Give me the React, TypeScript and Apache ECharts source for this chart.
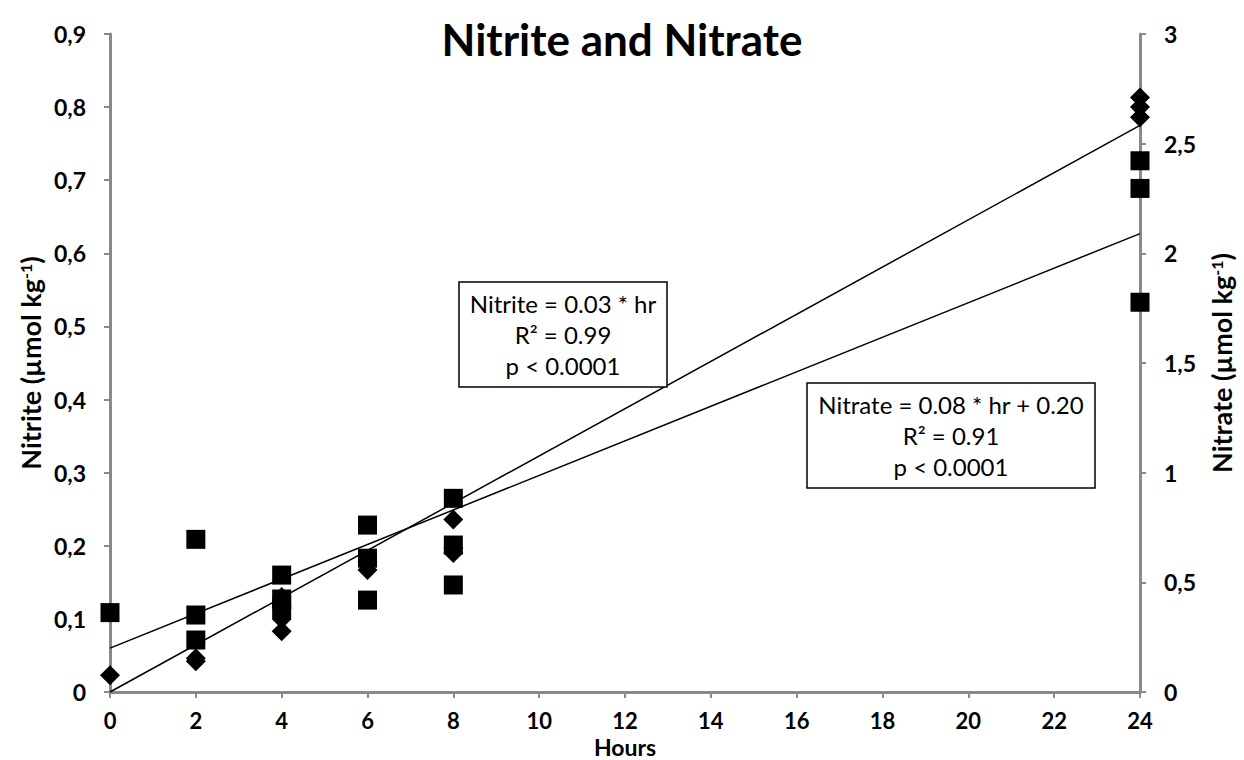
import React, { useEffect, useRef } from "react";
import * as echarts from "echarts";

const xTicks = [0, 24, 2];
const nitriteHours = [0, 2, 2, 4, 4, 4, 4, 6, 6, 8, 8, 8, 24, 24, 24];
const nitriteValues = [0.023, 0.046, 0.042, 0.13, 0.115, 0.1, 0.083, 0.178, 0.167, 0.236, 0.197, 0.19, 0.813, 0.8, 0.786];
const nitrateHours = [0, 2, 2, 2, 4, 4, 4, 6, 6, 6, 8, 8, 8, 24, 24, 24];
const nitrateValues = [0.362, 0.696, 0.351, 0.237, 0.533, 0.424, 0.38, 0.761, 0.61, 0.419, 0.883, 0.67, 0.488, 2.422, 2.296, 1.777];
const nitriteFitX = [0, 24];
const nitriteFitY = [0, 0.775];
const nitrateFitX = [0, 24];
const nitrateFitY = [0.2, 2.09];
const nitriteBox = ["Nitrite = 0.03 * hr", "R² = 0.99", "p < 0.0001"];
const nitrateBox = ["Nitrate = 0.08 * hr + 0.20", "R² = 0.91", "p < 0.0001"];

const FONT = "Lato, 'Liberation Sans', sans-serif";
const AXIS_GRAY = "#898989";

function fmt(v: number) {
  const r = Math.round(v * 10) / 10;
  return String(r).replace(".", ",");
}

function boxGraphic(lines: string[], x: number, y: number, w: number, h: number, lineYs: number[]) {
  const children: any[] = [
    {
      type: "rect",
      shape: { x, y, width: w, height: h },
      style: { fill: "#fff", stroke: "#000", lineWidth: 1.5 },
      z: 100,
    },
  ];
  lines.forEach((t, i) => {
    children.push({
      type: "text",
      z: 101,
      style: {
        text: t,
        x: x + w / 2,
        y: lineYs[i],
        textAlign: "center",
        textVerticalAlign: "middle",
        fontFamily: FONT,
        fontSize: 24,
        fill: "#000",
      },
    });
  });
  return children;
}

export default function App() {
  const ref = useRef<HTMLDivElement>(null);
  useEffect(() => {
    if (!ref.current) return;
    const chart = echarts.init(ref.current, null, { renderer: "svg" });
    const nameRich = {
      sup: { fontSize: 16, fontWeight: "bold", fontFamily: FONT, verticalAlign: "top", color: "#000" },
    };
    const axisLabelStyle = { fontFamily: FONT, fontWeight: "bold", fontSize: 23, color: "#000" };
    const nameStyle = { fontFamily: FONT, fontWeight: "bold", fontSize: 27, color: "#000" };
    const option: any = {
      animation: false,
      backgroundColor: "#fff",
      title: {
        text: "Nitrite and Nitrate",
        left: "center",
        top: 12,
        textStyle: { fontFamily: FONT, fontWeight: "bold", fontSize: 44, color: "#000" },
      },
      grid: { left: 110, right: 104, top: 34, bottom: 68, containLabel: false, outerBoundsMode: "none" },
      xAxis: {
        type: "value",
        min: xTicks[0],
        max: xTicks[1],
        interval: xTicks[2],
        name: "Hours",
        nameLocation: "middle",
        nameGap: 44,
        nameMoveOverlap: false,
        nameTextStyle: { ...nameStyle, fontSize: 23, lineHeight: 22 },
        axisLine: { show: true, lineStyle: { color: AXIS_GRAY, width: 3 } },
        axisTick: { show: true, inside: false, length: 6, lineStyle: { color: AXIS_GRAY, width: 2 } },
        axisLabel: { margin: 18, ...axisLabelStyle, fontSize: 22, lineHeight: 20 },
        splitLine: { show: false },
      },
      yAxis: [
        {
          type: "value",
          position: "left",
          min: 0,
          max: 0.9,
          interval: 0.1,
          name: "Nitrite (µmol kg{sup|-1})",
          nameLocation: "middle",
          nameRotate: 90,
          nameGap: 66,
          nameMoveOverlap: false,
          nameTextStyle: { ...nameStyle, rich: nameRich },
          axisLine: { show: true, lineStyle: { color: AXIS_GRAY, width: 3 } },
          axisTick: { show: true, inside: false, length: 6, lineStyle: { color: AXIS_GRAY, width: 2 } },
          axisLabel: { margin: 24, ...axisLabelStyle, formatter: fmt },
          splitLine: { show: false },
        },
        {
          type: "value",
          position: "right",
          min: 0,
          max: 3,
          interval: 0.5,
          name: "Nitrate (µmol kg{sup|-1})",
          nameLocation: "middle",
          nameRotate: 90,
          nameGap: 68,
          nameMoveOverlap: false,
          nameTextStyle: { ...nameStyle, rich: nameRich },
          axisLine: { show: true, lineStyle: { color: AXIS_GRAY, width: 3 } },
          axisTick: { show: true, inside: false, length: 6, lineStyle: { color: AXIS_GRAY, width: 2 } },
          axisLabel: { margin: 24, ...axisLabelStyle, formatter: fmt },
          splitLine: { show: false },
        },
      ],
      series: [
        {
          name: "Nitrite",
          type: "scatter",
          yAxisIndex: 0,
          symbol: "diamond",
          symbolSize: [20, 20],
          itemStyle: { color: "#000", opacity: 1 },
          data: nitriteHours.map((h, i) => [h, nitriteValues[i]]),
          z: 3,
        },
        {
          name: "Nitrate",
          type: "scatter",
          yAxisIndex: 1,
          symbol: "rect",
          symbolSize: 19,
          itemStyle: { color: "#000", opacity: 1 },
          data: nitrateHours.map((h, i) => [h, nitrateValues[i]]),
          z: 3,
        },
        {
          name: "Nitrite fit",
          type: "line",
          yAxisIndex: 0,
          showSymbol: false,
          symbol: "none",
          lineStyle: { color: "#000", width: 1.5 },
          data: nitriteFitX.map((h, i) => [h, nitriteFitY[i]]),
          z: 4,
        },
        {
          name: "Nitrate fit",
          type: "line",
          yAxisIndex: 1,
          showSymbol: false,
          symbol: "none",
          lineStyle: { color: "#000", width: 1.5 },
          data: nitrateFitX.map((h, i) => [h, nitrateFitY[i]]),
          z: 4,
        },
      ],
      graphic: [
        ...boxGraphic(nitriteBox, 459, 282, 208, 105, [303, 334, 365]),
        ...boxGraphic(nitrateBox, 807, 383, 288, 105, [404, 435, 466]),
      ],
    };
    chart.setOption(option);
    return () => chart.dispose();
  }, []);
  return (
    <div
      ref={ref}
      style={{ position: "fixed", left: 0, top: 0, width: 1244, height: 760, background: "#fff" }}
    />
  );
}
